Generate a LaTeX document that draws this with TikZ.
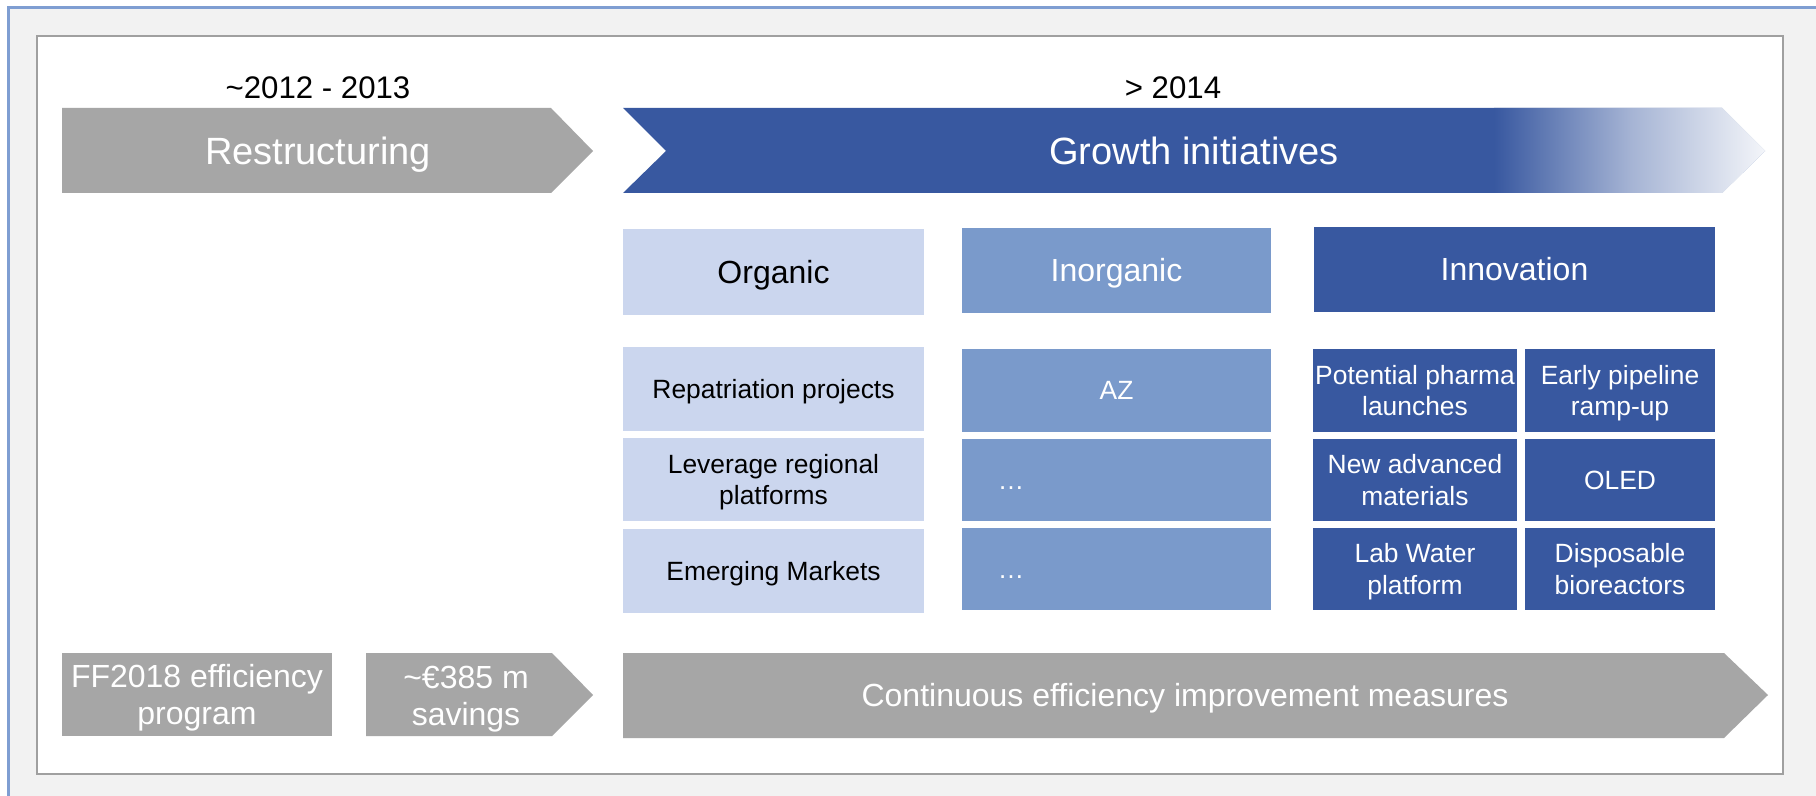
\documentclass[tikz,border=0pt]{standalone}
\usepackage{fontspec}
\setmainfont{Liberation Sans}
\usetikzlibrary{fit}
\definecolor{gr}{HTML}{A6A6A6}
\definecolor{db}{HTML}{3858A0}
\definecolor{mb}{HTML}{7A9ACB}
\definecolor{lb}{HTML}{CBD6EE}
\definecolor{bgc}{HTML}{F2F2F2}
\definecolor{frc}{HTML}{7F9ED2}
\definecolor{ibc}{HTML}{A0A0A0}
\tikzset{
  txt/.style={inner sep=0pt, align=center},
  big/.style={txt, text=white, font=\fontsize{19}{22}\selectfont, text height=13.6pt, text depth=0pt},
  head/.style={txt, font=\fontsize{16}{19}\selectfont, text height=11.5pt, text depth=0pt},
  cell/.style={txt, font=\fontsize{13.2}{15.6}\selectfont, text height=9.45pt, text depth=0pt},
  cell2/.style={cell, text height=25.05pt},
  bot/.style={txt, text=white, font=\fontsize{16}{18.5}\selectfont, text height=11.5pt, text depth=0pt},
  bot2/.style={bot, text height=30pt},
  year/.style={txt, font=\fontsize{15.6}{18}\selectfont, text height=11.2pt, text depth=0pt},
  boxfit/.style={inner sep=0pt, outer sep=0pt, draw=none},
}
\begin{document}
\begin{tikzpicture}[x=0.5pt,y=-0.5pt]
\useasboundingbox (0,0) rectangle (1816,796);
\fill[white] (0,0) rectangle (1816,796);
\draw[frc, line width=1.5pt, fill=bgc] (8,8) rectangle (1840,820);
\draw[ibc, line width=0.6pt, fill=white] (37,36) rectangle (1783,774);

% year labels
\node[year] (y1) at (318,87) {\textasciitilde2012 - 2013};
\node[year] (y2) at (1173,87) {> 2014};

% Restructuring chevron
\fill[gr] (62,108) -- (551,108) -- (593,151) -- (551,193) -- (62,193) -- cycle;
\node[big] (restr) at (318,151) {Restructuring};

% Growth chevron with fade
\fill[db] (623,108) -- (1722,108) -- (1765,151) -- (1722,193) -- (623,193) -- (666,151) -- cycle;
\begin{scope}
  \clip (623,108) -- (1722,108) -- (1765,151) -- (1722,193) -- (623,193) -- (666,151) -- cycle;
  \fill[white] (1494,100) rectangle (1770,200);
  \shade[left color=db, right color=white!95!db, middle color=db!45!white] (1494,100) rectangle (1768,200);
\end{scope}
\node[big] (growth) at (1194,151) {Growth initiatives};

% headers
\node[boxfit, fill=lb, fit={(623,229) (924,315)}] (org) {};
\node[boxfit, fill=mb, fit={(962,228) (1271,313)}] (inorg) {};
\node[boxfit, fill=db, fit={(1314,227) (1715,312)}] (innov) {};
\node[head] (orgt) at (org.center) {Organic};
\node[head, text=white] (inorgt) at (inorg.center) {Inorganic};
\node[head, text=white] (innovt) at (innov.center) {Innovation};

% organic rows
\node[boxfit, fill=lb, fit={(623,347) (924,431)}] (o1) {};
\node[boxfit, fill=lb, fit={(623,438) (924,521)}] (o2) {};
\node[boxfit, fill=lb, fit={(623,529) (924,613)}] (o3) {};
\node[cell] (o1t) at (o1.center) {Repatriation projects};
\node[cell2] (o2t) at (o2.center) {Leverage regional\\platforms};
\node[cell] (o3t) at (o3.center) {Emerging Markets};

% inorganic rows
\node[boxfit, fill=mb, fit={(962,349) (1271,432)}] (i1) {};
\node[boxfit, fill=mb, fit={(962,439) (1271,521)}] (i2) {};
\node[boxfit, fill=mb, fit={(962,528) (1271,610)}] (i3) {};
\node[cell, text=white] (i1t) at (i1.center) {AZ};
\node[cell, text=white] (i2t) at (1011,480) {…};
\node[cell, text=white] (i3t) at (1011,569) {…};

% innovation cells
\node[boxfit, fill=db, fit={(1313,349) (1517,432)}] (n1) {};
\node[boxfit, fill=db, fit={(1525,349) (1715,432)}] (n2) {};
\node[boxfit, fill=db, fit={(1313,439) (1517,521)}] (n3) {};
\node[boxfit, fill=db, fit={(1525,439) (1715,521)}] (n4) {};
\node[boxfit, fill=db, fit={(1313,528) (1517,610)}] (n5) {};
\node[boxfit, fill=db, fit={(1525,528) (1715,610)}] (n6) {};
\node[cell2, text=white] (n1t) at (n1.center) {Potential pharma\\launches};
\node[cell2, text=white] (n2t) at (n2.center) {Early pipeline\\ramp-up};
\node[cell2, text=white] (n3t) at (n3.center) {New advanced\\materials};
\node[cell, text=white] (n4t) at (n4.center) {OLED};
\node[cell2, text=white] (n5t) at (n5.center) {Lab Water\\platform};
\node[cell2, text=white] (n6t) at (n6.center) {Disposable\\bioreactors};

% bottom row
\node[boxfit, fill=gr, fit={(62,653) (332,736)}] (ff) {};
\node[bot2] (fft) at (ff.center) {FF2018 efficiency\\program};
\fill[gr] (366,653) -- (552,653) -- (593,695) -- (552,736) -- (366,736) -- cycle;
\node[bot2] (sav) at (466,695) {\textasciitilde€385 m\\savings};
\fill[gr] (623,653) -- (1724,653) -- (1768,695) -- (1724,738) -- (623,738) -- cycle;
\node[bot] (cont) at (1185,695) {Continuous efficiency improvement measures};
\end{tikzpicture}
\end{document}
